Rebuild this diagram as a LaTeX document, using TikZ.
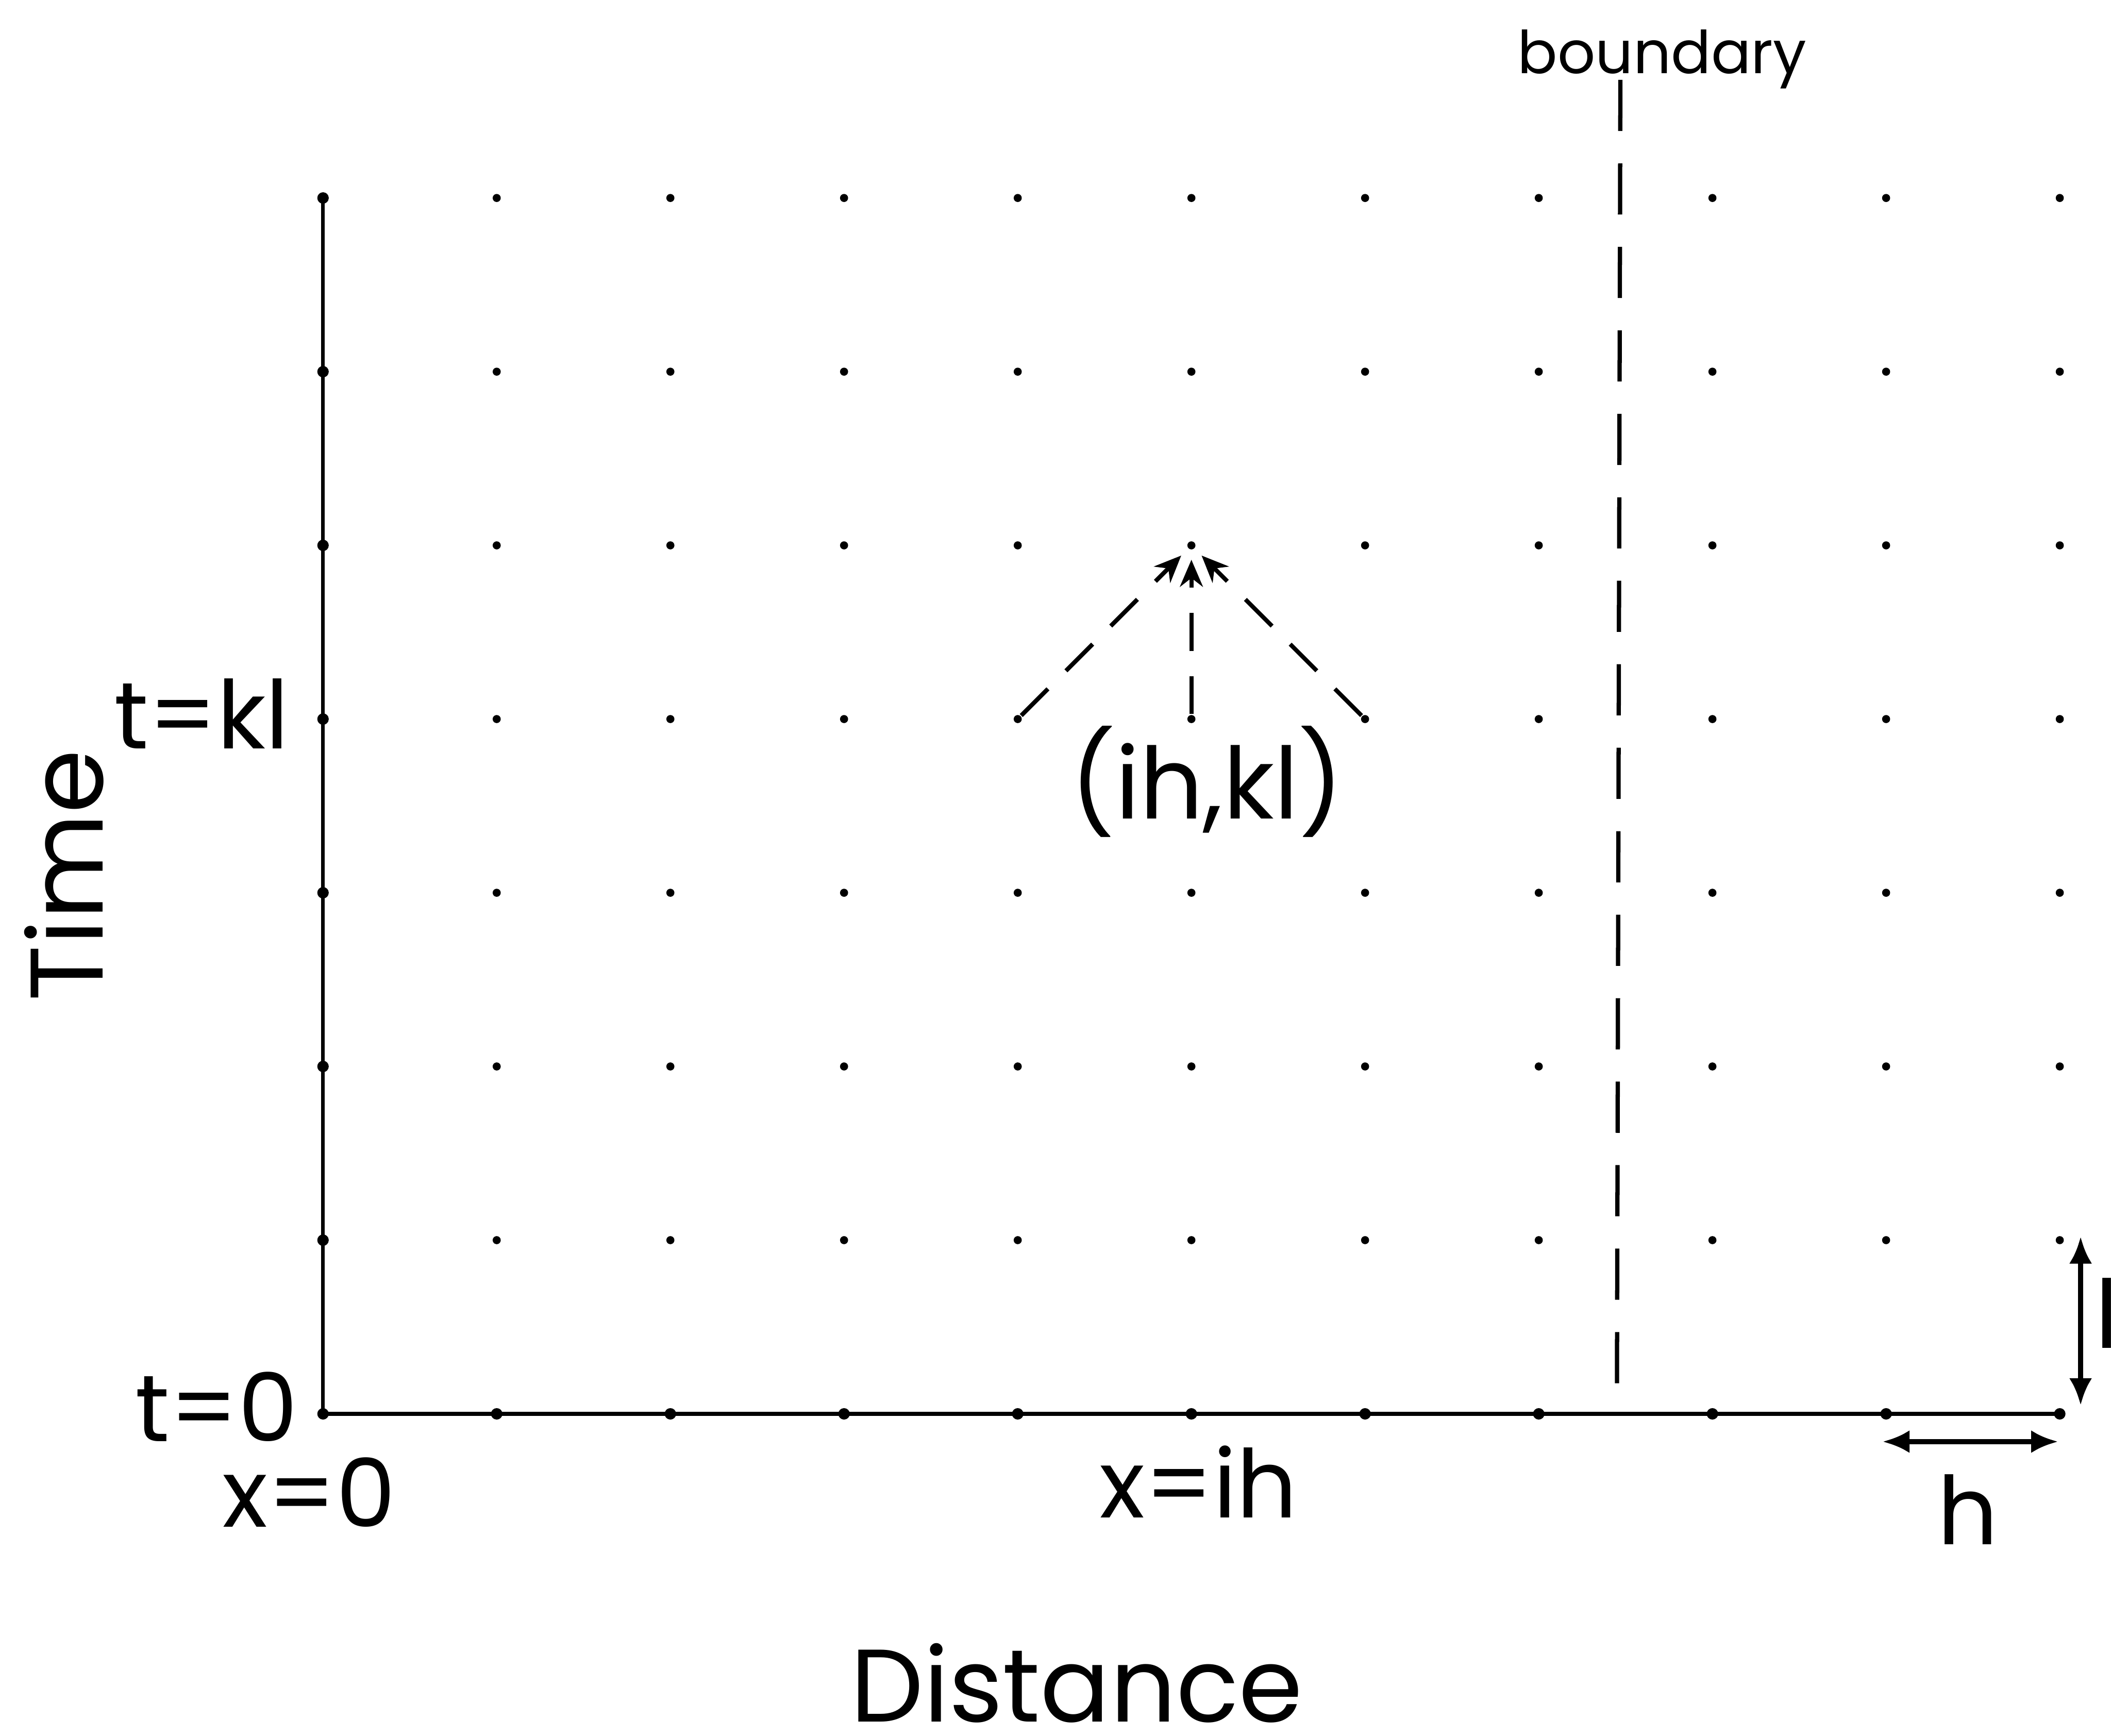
\documentclass[tikz,border=0pt]{standalone}
\usepackage{fontspec}
\setmainfont{Poppins}
\usetikzlibrary{arrows.meta}
\definecolor{inkline}{HTML}{000000}
\tikzset{
  gridpt/.style  = {circle, fill=inkline, inner sep=0pt, minimum size=0.6mm},
  axispt/.style  = {circle, fill=inkline, inner sep=0pt, minimum size=0.85mm},
  axisline/.style= {line width=0.8pt, draw=inkline},
  flow/.style    = {-{Stealth[length=2mm, width=1.7mm]}, dash pattern=on 2.8mm off 1.9mm,
                    line width=0.9pt, draw=inkline, shorten >=0.7mm},
  bndline/.style = {dash pattern=on 3.8mm off 2.4mm, line width=0.9pt, draw=inkline},
  span/.style    = {{Latex[length=2mm, width=1.7mm]}-{Latex[length=2mm, width=1.7mm]},
                    line width=1pt, draw=inkline},
  lbl/.style     = {font=\fontsize{20}{22}\selectfont, inner sep=0pt},
  biglbl/.style  = {font=\fontsize{21.8}{24}\selectfont, inner sep=0pt},
  smalllbl/.style= {font=\fontsize{12.5}{14}\selectfont, inner sep=0pt},
}
\begin{document}
\begin{tikzpicture}[x=12.9mm, y=12.9mm]
\useasboundingbox (-1.86,-1.853) rectangle (10.295,8.14);
% mesh points
\foreach \i in {0,...,10}{
  \foreach \k in {0,...,7}{
    \ifnum\numexpr\i*\k\relax=0 \tikzset{dotpt/.style=axispt}\else\tikzset{dotpt/.style=gridpt}\fi
    \node[dotpt] (p-\i-\k) at (\i,\k) {};
  }
}
\draw[axisline] (p-0-0.center) -- (p-0-7.center);
\draw[axisline] (p-0-0.center) -- (p-10-0.center);
% boundary
\coordinate (btop) at (7.47,7.68);
\coordinate (bbot) at (7.45,0.08);
\draw[bndline] (btop) -- (bbot);
\node[smalllbl] (bnd) at (7.71,7.8) {boundary};
% stencil
\foreach \a in {4,5,6}{\draw[flow] (p-\a-4) -- (p-5-5);}
\node[lbl, font=\fontsize{21}{23}\selectfont] (pnt) at (5.09,3.64) {(ih,kl)};
% spacings
\coordinate (hl) at (8.98,-0.16);
\coordinate (hr) at (9.99,-0.16);
\draw[span] (hl) -- (hr);
\node[lbl] (hlab) at (9.47,-0.55) {h};
\coordinate (lt) at (10.12,1.02);
\coordinate (lb) at (10.12,0.05);
\draw[span] (lt) -- (lb);
\node[lbl, anchor=west] (llab) at (10.2,0.58) {l};
% axis labels
\node[lbl, anchor=east] (t0) at (-0.14,0.04) {t=0};
\node[lbl, anchor=east] (tkl) at (-0.19,4.03) {t=kl};
\node[lbl] (x0) at (-0.08,-0.45) {x=0};
\node[lbl] (xih) at (5.04,-0.39) {x=ih};
\node[biglbl, rotate=90] (time) at (-1.49,3.1) {Time};
\node[biglbl] (dist) at (4.34,-1.55) {Distance};
\end{tikzpicture}
\end{document}
